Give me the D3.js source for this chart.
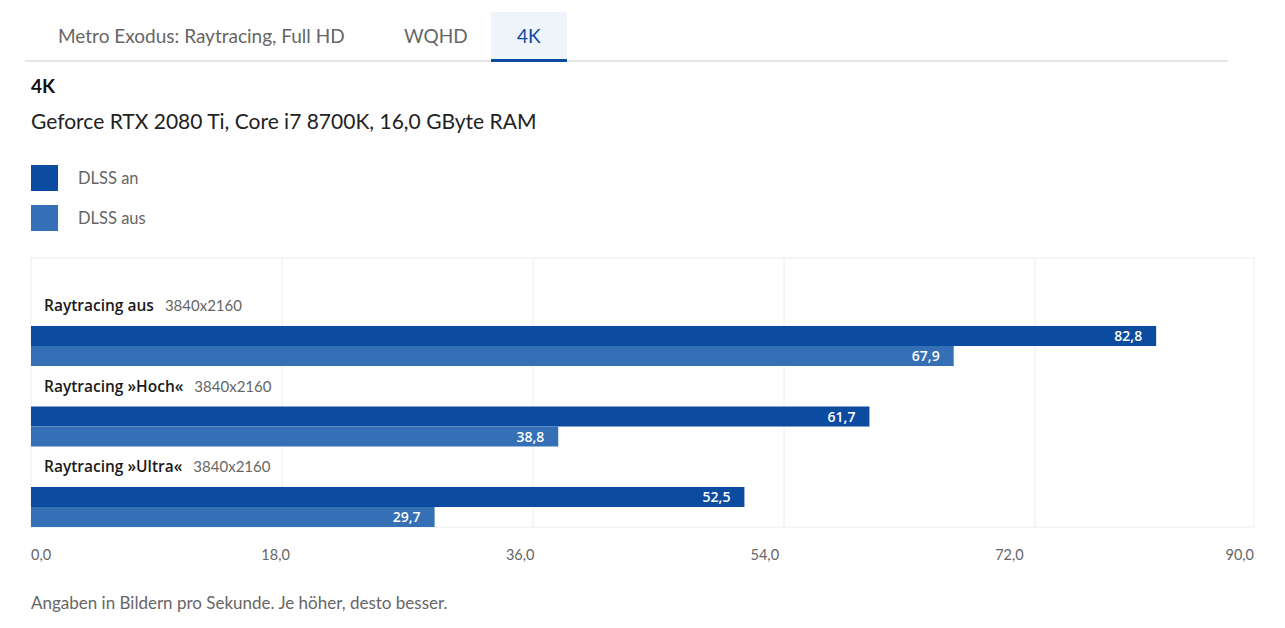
<!DOCTYPE html>
<html>
<head>
<meta charset="utf-8">
<script src="https://cdn.jsdelivr.net/npm/d3@7"></script>
<style>
  body { margin: 0; background: #fff; font-family: Lato, "Open Sans", sans-serif; }
</style>
</head>
<body>
<div id="graph"></div>
<script>
// data
const tabs = ["Metro Exodus: Raytracing, Full HD", "WQHD", "4K"];
const activeTab = "4K";
const title = "4K";
const subtitle = "Geforce RTX 2080 Ti, Core i7 8700K, 16,0 GByte RAM";
const seriesNames = ["DLSS an", "DLSS aus"];
const seriesColors = ["#0b4ba0", "#3570b6"];
const categories = ["Raytracing aus", "Raytracing »Hoch«", "Raytracing »Ultra«"];
const resolutions = ["3840x2160", "3840x2160", "3840x2160"];
const dlssAn = [82.8, 61.7, 52.5];
const dlssAus = [67.9, 38.8, 29.7];
const tickValues = [0, 18, 36, 54, 72, 90];
const footnote = "Angaben in Bildern pro Sekunde. Je höher, desto besser.";

const W = 1285, H = 628;
const left = 31, right = 1254;
const plotTop = 258, plotBottom = 527;
const fmt = v => d3.format(".1f")(v).replace(".", ",");

const svg = d3.select("#graph").append("svg")
  .attr("width", W).attr("height", H)
  .style("display", "block");

// tabs
const tabX = [58, 404, 517];
svg.append("line")
  .attr("x1", 25).attr("x2", 1228).attr("y1", 61).attr("y2", 61)
  .attr("stroke", "#e6e6e6").attr("stroke-width", 2);
svg.append("rect")
  .attr("x", 491).attr("y", 12).attr("width", 76).attr("height", 48)
  .attr("fill", "#eef4fa");
svg.append("rect")
  .attr("x", 491).attr("y", 59).attr("width", 76).attr("height", 3)
  .attr("fill", "#0b4ba0");
svg.selectAll("text.tab").data(tabs).enter().append("text")
  .attr("class", "tab")
  .attr("x", (d, i) => tabX[i]).attr("y", 43)
  .attr("font-size", 19)
  .attr("fill", d => d === activeTab ? "#0b4ba0" : "#666")
  .text(d => d);

// titles
svg.append("text").attr("x", 31).attr("y", 93)
  .attr("font-size", 19).attr("font-weight", 700).attr("fill", "#111").text(title);
svg.append("text").attr("x", 31).attr("y", 129)
  .attr("font-size", 21).attr("fill", "#222").text(subtitle);

// legend
const legend = svg.selectAll("g.legend").data(seriesNames).enter().append("g")
  .attr("transform", (d, i) => "translate(31," + (165 + i * 40) + ")");
legend.append("rect").attr("width", 27).attr("height", 26)
  .attr("fill", (d, i) => seriesColors[i]);
legend.append("text").attr("x", 47).attr("y", 19)
  .attr("font-size", 16.5).attr("fill", "#666").text(d => d);

// scales
const x = d3.scaleLinear().domain([0, 90]).range([left, right]);
// grid in the original sits on a slightly wider division than the labels
const xGrid = d3.scaleLinear().domain([0, 90]).range([left, left + 1255]);
const y = d3.scaleBand().domain(categories).range([286, 527.5]);

// frame + grid
svg.append("rect")
  .attr("x", left).attr("y", plotTop).attr("width", right - left).attr("height", plotBottom - plotTop)
  .attr("fill", "none").attr("stroke", "#ececec");
svg.selectAll("line.grid").data([18, 36, 54, 72]).enter().append("line")
  .attr("x1", d => xGrid(d)).attr("x2", d => xGrid(d))
  .attr("y1", plotTop).attr("y2", plotBottom)
  .attr("stroke", "#ececec");

// groups
const groups = svg.selectAll("g.cat").data(categories).enter().append("g")
  .attr("transform", d => "translate(0," + y(d) + ")");

const lab = groups.append("text").attr("x", 44).attr("y", 25);
lab.append("tspan").attr("font-family", "'Open Sans', sans-serif")
  .attr("font-size", 15.5).attr("font-weight", 600).attr("fill", "#1a1a1a").text(d => d);
lab.append("tspan").attr("dx", 11).attr("font-size", 15).attr("fill", "#666")
  .text((d, i) => resolutions[i]);

const series = [dlssAn, dlssAus];
series.forEach((vals, s) => {
  groups.append("rect")
    .attr("x", x(0)).attr("y", 40 + s * 20)
    .attr("width", (d, i) => x(vals[i]) - x(0)).attr("height", 20)
    .attr("fill", seriesColors[s]);
  groups.append("text")
    .attr("x", (d, i) => x(vals[i]) - 14).attr("y", 55 + s * 20)
    .attr("text-anchor", "end")
    .attr("font-family", "'Open Sans', sans-serif")
    .attr("font-size", 14).attr("font-weight", 600)
    .attr("fill", "#fff")
    .text((d, i) => fmt(vals[i]));
});

// axis labels
svg.selectAll("text.tick").data(tickValues).enter().append("text")
  .attr("x", d => x(d)).attr("y", 560)
  .attr("text-anchor", (d, i) => i === 0 ? "start" : (i === tickValues.length - 1 ? "end" : "middle"))
  .attr("font-size", 14.5).attr("fill", "#666")
  .text(d => fmt(d));

svg.append("text").attr("x", 31).attr("y", 609)
  .attr("font-size", 17).attr("fill", "#666").text(footnote);
</script>
</body>
</html>
